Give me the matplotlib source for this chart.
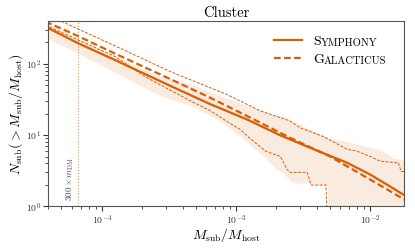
import numpy as np
import matplotlib
matplotlib.use("Agg")
import matplotlib.pyplot as plt

plt.rcParams['font.family'] = 'serif'
plt.rcParams['font.serif'] = ['cmr10', 'DejaVu Serif']
plt.rcParams['mathtext.fontset'] = 'cm'
plt.rcParams['axes.formatter.use_mathtext'] = True

# values, as log10(M_sub/M_host) and log10(N_sub)
sym_logx = [-4.42, -4.18, -3.9, -3.49, -3.2, -2.92, -2.67, -2.42, -2.17, -2.0, -1.87, -1.74]
sym_logn = [2.52, 2.29, 2.05, 1.69, 1.44, 1.22, 0.996, 0.80, 0.61, 0.446, 0.30, 0.15]

gal_logx = [-4.42, -4.18, -3.9, -3.49, -3.2, -2.9, -2.6, -2.3, -2.0, -1.74]
gal_logn = [2.59, 2.39, 2.14, 1.785, 1.53, 1.25, 0.965, 0.70, 0.376, 0.09]

gal_hi_logx = [-4.42, -4.18, -3.89, -3.57, -3.49, -3.07, -2.82, -2.6, -2.52, -2.42,
               -2.35, -2.17, -2.10, -2.0, -1.925, -1.79, -1.77, -1.74]
gal_hi_logn = [2.70, 2.49, 2.24, 1.96, 1.89, 1.57, 1.34, 1.20, 1.10, 1.03,
               0.98, 0.80, 0.775, 0.70, 0.634, 0.61, 0.49, 0.49]

gal_lo_logx = [-4.42, -3.9, -3.67, -3.34, -3.19, -3.05, -2.97, -2.90, -2.78, -2.67,
               -2.62, -2.60, -2.47, -2.44, -2.33, -2.32]
gal_lo_logn = [2.54, 2.10, 1.81, 1.48, 1.34, 1.17, 1.08, 0.96, 0.775, 0.70,
               0.52, 0.477, 0.477, 0.30, 0.30, -0.2]

band_logx = [-4.42, -4.18, -3.9, -3.6, -3.49, -3.34, -3.14, -2.97, -2.77, -2.70,
             -2.65, -2.58, -2.45, -2.32, -2.31, -2.17, -2.10, -1.93, -1.83, -1.74]
band_lo = [2.37, 2.15, 1.88, 1.58, 1.50, 1.42, 1.22, 0.99, 0.66, 0.52,
           0.47, 0.33, 0.32, 0.30, -0.2, -0.2, -0.2, -0.2, -0.2, -0.2]
band_hi = [2.58, 2.36, 2.10, 1.85, 1.79, 1.72, 1.56, 1.45, 1.32, 1.28,
           1.25, 1.20, 1.08, 0.97, 0.96, 0.91, 0.87, 0.80, 0.68, 0.65]

res_limit = 6.6e-5  # 300 x m_DM

col = '#d95f02'

fig = plt.figure(figsize=(4.15, 2.49), dpi=100)
ax = fig.add_axes([0.116, 0.171, 0.857, 0.745])

bx = 10 ** np.array(band_logx)
ax.fill_between(bx, 10 ** np.array(band_lo), 10 ** np.array(band_hi),
                color=col, alpha=0.12, lw=0)
ax.plot(10 ** np.array(sym_logx), 10 ** np.array(sym_logn), color=col, lw=1.6, label='S')
ax.plot(10 ** np.array(gal_logx), 10 ** np.array(gal_logn), color=col, lw=1.6,
        ls=(0, (3, 1.5)), label='G')
ax.plot(10 ** np.array(gal_hi_logx), 10 ** np.array(gal_hi_logn), color=col, lw=0.7,
        ls=(0, (3, 1.5)))
ax.plot(10 ** np.array(gal_lo_logx), 10 ** np.array(gal_lo_logn), color=col, lw=0.7,
        ls=(0, (3, 1.5)))
ax.axvline(res_limit, color=col, lw=0.8, ls=':', alpha=0.7)
ax.text(res_limit * 0.975, 2.45, r'$300\times m_{\rm DM}$', rotation=90, fontsize=6.5,
        ha='right', va='center', color='#444444')

ax.set_xscale('log')
ax.set_yscale('log')
ax.set_xlim(10 ** -4.40, 10 ** -1.75)
ax.set_ylim(1, 10 ** 2.6)
ax.set_title('Cluster', fontsize=10.5, pad=3)
ax.set_xlabel(r'$M_{\rm sub}/M_{\rm host}$', fontsize=10, labelpad=-1)
ax.set_ylabel(r'$N_{\rm sub}(>M_{\rm sub}/M_{\rm host})$', fontsize=10, labelpad=1)
ax.tick_params(which='both', direction='out', labelsize=7, colors='#333333', pad=1.5)
ax.tick_params(which='major', length=3.5, width=0.8)
ax.tick_params(which='minor', length=2, width=0.6)
for s in ax.spines.values():
    s.set_color('#555555')
    s.set_linewidth(0.8)

leg = ax.legend(loc='upper right', frameon=False, fontsize=10,
                bbox_to_anchor=(0.81, 0.99), handlelength=2.0, labelspacing=0.4)
fig.canvas.draw()
for t, rest in zip(leg.get_texts(), ['YMPHONY', 'ALACTICUS']):
    bb = t.get_window_extent()
    x, y = fig.transFigure.inverted().transform((bb.x1 + 0.3, bb.y0 + 0.4))
    fig.text(x, y, rest, fontsize=7.6, va='bottom', ha='left', color=t.get_color())

fig.savefig('out.png', dpi=100)
